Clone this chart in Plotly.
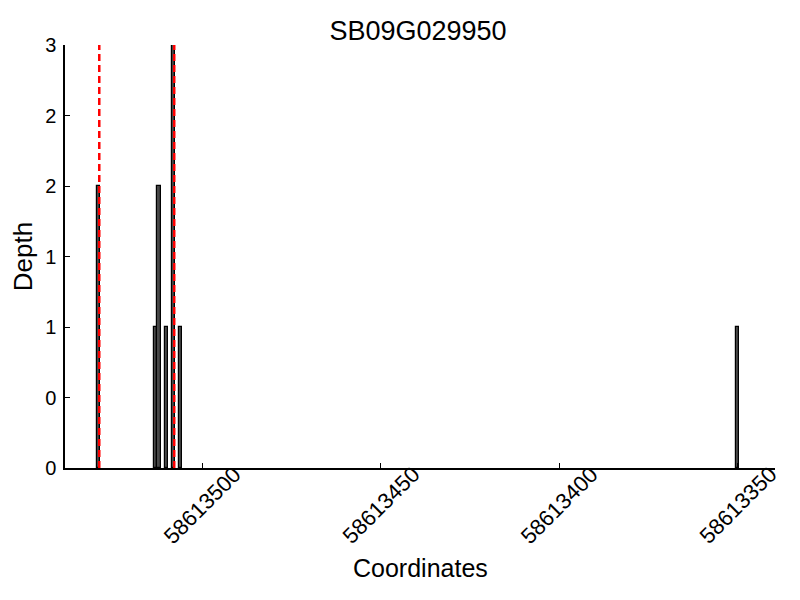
import plotly.graph_objects as go

title = "SB09G029950"
positions = [58613529, 58613513, 58613512, 58613510, 58613508, 58613506, 58613350]
depths = [2, 1, 2, 1, 3, 1, 1]
marker_lines = [58613528.8, 58613507.8]
y_tick_vals = [0, 0.5, 1, 1.5, 2, 2.5, 3]
y_tick_text = ["0", "0", "1", "1", "2", "2", "3"]
x_tick_vals = [58613500, 58613450, 58613400, 58613350]
x_tick_text = [str(v) for v in x_tick_vals]
x_range = [58613538.4, 58613339.5]
y_range = [0, 3]

fig = go.Figure()
fig.add_trace(go.Bar(
    x=positions, y=depths, width=1.0,
    marker=dict(color="rgb(72,72,72)", line=dict(color="black", width=1.2)),
    showlegend=False,
))
for xv in marker_lines:
    fig.add_trace(go.Scatter(
        x=[xv, xv], y=y_range, mode="lines",
        line=dict(color="red", width=2.5, dash="7px,4px"),
        showlegend=False, hoverinfo="skip",
    ))

font_family = "Liberation Sans, Arial, Helvetica, sans-serif"

# rotated tick labels centred on their ticks (matplotlib style)
for xv, txt in zip(x_tick_vals, x_tick_text):
    fig.add_annotation(
        x=xv, xref="x", y=0.022, yref="paper",
        text=txt, textangle=-45, showarrow=False,
        xanchor="center", yanchor="top",
        font=dict(size=22, family=font_family, color="black"),
    )
fig.add_annotation(
    x=0.5, xref="paper", y=-0.236, yref="paper",
    text="Coordinates", showarrow=False, xanchor="center", yanchor="middle",
    font=dict(size=25, family=font_family, color="black"),
)

fig.update_layout(
    width=800, height=600,
    paper_bgcolor="white", plot_bgcolor="white",
    margin=dict(l=57, r=33, t=37, b=140),
    font=dict(family=font_family, color="black", size=20),
    title=dict(text=title, x=0.5125, xanchor="center", y=0.962, yanchor="middle",
               font=dict(size=27, family=font_family, color="black")),
    bargap=0,
)
fig.update_xaxes(
    range=x_range, tickvals=x_tick_vals, showticklabels=False,
    ticks="inside", ticklen=5, tickcolor="black",
    showline=True, linecolor="black", linewidth=1.5, showgrid=False, zeroline=False,
    automargin=False,
)
fig.update_yaxes(
    range=y_range, tickvals=y_tick_vals, ticktext=y_tick_text,
    ticks="inside", ticklen=5, tickcolor="black",
    showline=True, linecolor="black", linewidth=1.5, showgrid=False, zeroline=False,
    title=dict(text="Depth", font=dict(size=26), standoff=5),
    tickfont=dict(size=20), automargin=False, ticklabelstandoff=3,
)
fig.write_html("out.html")
